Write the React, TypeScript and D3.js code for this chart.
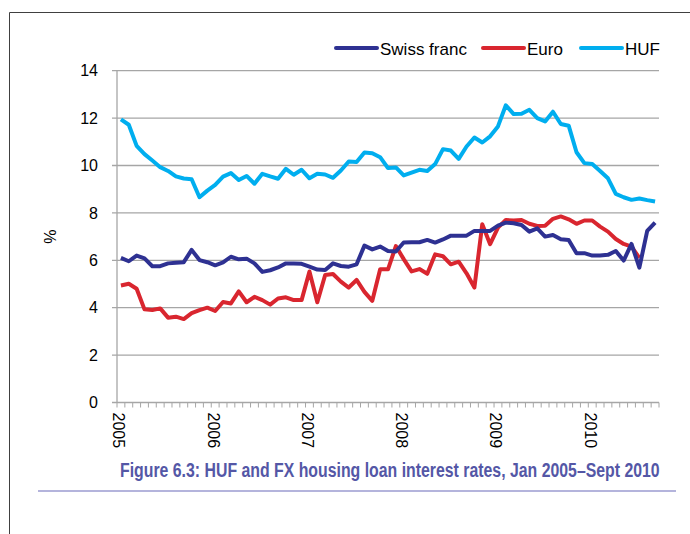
import React, { useEffect, useRef } from 'react';
import * as d3 from 'd3';

// Monthly data, Jan 2005 - Sept 2010 (%)
const years = ['2005', '2006', '2007', '2008', '2009', '2010'];
const yTicks = [0, 2, 4, 6, 8, 10, 12, 14];

const swissFranc = [
  6.10, 5.96, 6.20, 6.08, 5.75, 5.75, 5.87, 5.90, 5.92, 6.44, 6.01, 5.92,
  5.79, 5.91, 6.15, 6.04, 6.07, 5.87, 5.51, 5.58, 5.70, 5.87, 5.87, 5.85,
  5.73, 5.61, 5.59, 5.87, 5.76, 5.73, 5.83, 6.62, 6.46, 6.58, 6.39, 6.37,
  6.75, 6.76, 6.76, 6.86, 6.75, 6.88, 7.04, 7.04, 7.04, 7.24, 7.24, 7.24,
  7.46, 7.59, 7.56, 7.49, 7.21, 7.35, 7.00, 7.07, 6.89, 6.86, 6.30, 6.30,
  6.20, 6.20, 6.23, 6.39, 5.99, 6.69, 5.69, 7.24, 7.59,
];

const euro: (number | null)[] = [
  4.94, 5.01, 4.80, 3.93, 3.90, 3.97, 3.58, 3.62, 3.52, 3.77, 3.90, 4.00,
  3.86, 4.24, 4.18, 4.69, 4.23, 4.46, 4.32, 4.13, 4.39, 4.44, 4.32, 4.32,
  5.53, 4.23, 5.38, 5.42, 5.10, 4.85, 5.17, 4.67, 4.29, 5.62, 5.62, 6.60,
  6.05, 5.53, 5.63, 5.43, 6.25, 6.17, 5.83, 5.94, 5.45, 4.85, 7.52, 6.68,
  7.38, 7.70, 7.68, 7.70, 7.54, 7.45, 7.46, 7.75, 7.85, 7.73, 7.54, 7.68,
  7.68, 7.42, 7.21, 6.90, 6.69, 6.58, 6.10, null, null,
];

const huf = [
  11.95, 11.72, 10.83, 10.48, 10.21, 9.93, 9.77, 9.54, 9.45, 9.42, 8.66, 8.94,
  9.18, 9.53, 9.68, 9.39, 9.56, 9.23, 9.65, 9.54, 9.44, 9.86, 9.61, 9.82,
  9.46, 9.65, 9.62, 9.48, 9.79, 10.17, 10.15, 10.55, 10.52, 10.35, 9.89, 9.92,
  9.58, 9.70, 9.82, 9.77, 10.06, 10.69, 10.63, 10.28, 10.80, 11.18, 10.97, 11.23,
  11.65, 12.54, 12.17, 12.18, 12.35, 12.00, 11.86, 12.27, 11.75, 11.68, 10.56, 10.10,
  10.06, 9.77, 9.46, 8.80, 8.66, 8.55, 8.61, 8.54, 8.48,
];

const seriesNames = ['Swiss franc', 'Euro', 'HUF'];

const App = () => {
  const svgRef = useRef<SVGSVGElement>(null);

  useEffect(() => {
    const width = 690;
    const height = 534;
    const plot = { left: 117, right: 659, top: 70.7, bottom: 402.5 };
    const font = "'Liberation Sans', Arial, sans-serif";
    const colors: Record<string, string> = {
      'Swiss franc': '#2e3192',
      Euro: '#d9262f',
      HUF: '#00aeef',
    };

    const months: string[] = [];
    years.forEach(y => {
      for (let m = 1; m <= 12; m++) months.push(`${y}-${m}`);
    });
    const categories = months.slice(0, huf.length);

    const svg = d3.select(svgRef.current);
    svg.selectAll('*').remove();
    svg.attr('width', width).attr('height', height);

    // frame
    svg.append('path')
      .attr('d', `M9.5,${height} V12.5 H${width}`)
      .attr('fill', 'none')
      .attr('stroke', '#404040')
      .attr('stroke-width', 1);

    const x = d3.scaleBand()
      .domain(categories)
      .range([plot.left, plot.right])
      .paddingInner(0)
      .paddingOuter(0);
    const cx = (c: string) => (x(c) as number) + x.bandwidth() / 2;

    const y = d3.scaleLinear()
      .domain([0, 14])
      .range([plot.bottom, plot.top]);

    // gridlines + y labels
    const grid = svg.append('g');
    yTicks.forEach(t => {
      grid.append('line')
        .attr('x1', plot.left - 5)
        .attr('x2', plot.right)
        .attr('y1', y(t))
        .attr('y2', y(t))
        .attr('stroke', '#a6a6a6')
        .attr('stroke-width', 1.3);
      grid.append('text')
        .attr('x', plot.left - 19)
        .attr('y', y(t))
        .attr('dy', '0.35em')
        .attr('text-anchor', 'end')
        .style('font-family', font)
        .style('font-size', '16px')
        .attr('fill', '#000')
        .text(t);
    });

    // y axis line
    svg.append('line')
      .attr('x1', plot.left)
      .attr('x2', plot.left)
      .attr('y1', plot.top)
      .attr('y2', plot.bottom)
      .attr('stroke', '#a6a6a6')
      .attr('stroke-width', 1.3);

    // monthly tick marks
    const tickPos = categories.map(c => x(c) as number).concat([plot.right]);
    svg.append('g').selectAll('line')
      .data(tickPos)
      .join('line')
      .attr('x1', d => d)
      .attr('x2', d => d)
      .attr('y1', plot.bottom)
      .attr('y2', plot.bottom + 5)
      .attr('stroke', '#a6a6a6')
      .attr('stroke-width', 1);

    // year labels (rotated)
    years.forEach(yr => {
      const px = cx(`${yr}-1`) - 2;
      svg.append('text')
        .attr('transform', `translate(${px}, ${plot.bottom + 10}) rotate(90)`)
        .attr('dy', '0.35em')
        .style('font-family', font)
        .style('font-size', '16px')
        .text(yr);
    });

    // % label
    svg.append('text')
      .attr('transform', `translate(56, ${(plot.top + plot.bottom) / 2}) rotate(-90)`)
      .attr('text-anchor', 'middle')
      .style('font-family', font)
      .style('font-size', '16px')
      .text('%');

    // lines
    const series: Record<string, (number | null)[]> = {
      'Swiss franc': swissFranc,
      Euro: euro,
      HUF: huf,
    };
    const line = d3.line<number | null>()
      .defined(d => d !== null)
      .x((_, i) => cx(categories[i]))
      .y(d => y(d as number));

    ['HUF', 'Euro', 'Swiss franc'].forEach(name => {
      svg.append('path')
        .datum(series[name])
        .attr('d', line)
        .attr('fill', 'none')
        .attr('stroke', colors[name])
        .attr('stroke-width', 4)
        .attr('stroke-linejoin', 'round');
    });

    // legend
    const legendX = [336, 483, 581];
    seriesNames.forEach((name, i) => {
      const lx = legendX[i];
      svg.append('line')
        .attr('x1', lx)
        .attr('x2', lx + 41)
        .attr('y1', 48)
        .attr('y2', 48)
        .attr('stroke', colors[name])
        .attr('stroke-width', 4)
        .attr('stroke-linecap', 'round');
      svg.append('text')
        .attr('x', lx + 44)
        .attr('y', 55)
        .style('font-family', font)
        .style('font-size', '17px')
        .text(name);
    });

    // title, condensed horizontally to fit the chart width
    const title = svg.append('text')
      .attr('x', 0)
      .attr('y', 0)
      .style('font-family', font)
      .style('font-size', '21px')
      .style('font-weight', 'bold')
      .attr('fill', '#5457a6')
      .text('Figure 6.3: HUF and FX housing loan interest rates, Jan 2005\u2013Sept 2010');
    const natural = (title.node() as SVGTextElement).getComputedTextLength() || 700;
    title.attr('transform', `translate(120, 477) scale(${540 / natural}, 1)`);

    svg.append('line')
      .attr('x1', 38)
      .attr('x2', 676)
      .attr('y1', 491)
      .attr('y2', 491)
      .attr('stroke', '#9b9bd0')
      .attr('stroke-width', 1.5);
  }, []);

  return (
    <svg ref={svgRef} style={{ position: 'absolute', left: 0, top: 0, display: 'block' }} />
  );
};

export default App;
